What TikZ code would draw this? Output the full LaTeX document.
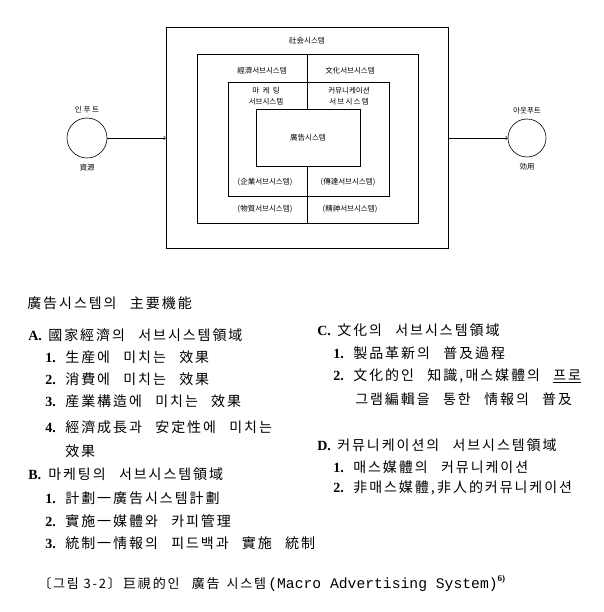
\documentclass[tikz,border=0pt]{standalone}
\usepackage{fontspec}
\setmainfont{Liberation Serif}
\setmonofont{Liberation Mono}
\newfontfamily\kr[LetterSpace=14]{Noto Sans CJK KR}
\newfontfamily\krc[LetterSpace=14]{Noto Sans CJK KR}
\newfontfamily\krs{Noto Sans CJK KR}
\usetikzlibrary{positioning}
\newcommand{\itm}[2]{\makebox[20pt][l]{\rmfamily\bfseries #1}#2}
\newcommand{\gap}{\hspace{0.95em}}

\begin{document}
\begin{tikzpicture}[x=1pt, y=-1pt, line width=0.6pt,
  lbl/.style={font=\krs\fontsize{7.5}{9}\selectfont, inner sep=0pt},
  txt/.style={anchor=west, font=\kr\fontsize{14}{16}\selectfont, inner sep=0pt}]
  \useasboundingbox (0,0) rectangle (603,612);

  % society system and its subsystems
  \node[draw, minimum width=282pt, minimum height=221pt, inner sep=0pt] (soc) at (307,137.5) {};
  \node[lbl] at (307,41) {社会시스템};
  \draw (197,54) rectangle (418,223);
  \draw (307,54) -- (307,223);
  \draw (228,82) rectangle (389,196);
  \node[draw, fill=white, minimum width=104pt, minimum height=57pt, lbl] (ad) at (308,137.5) {廣告시스템};
  \node[lbl] at (262,71) {經濟서브시스템};
  \node[lbl] at (350,71) {文化서브시스템};
  \node[lbl, align=center] at (266,96) {마\ \ 케\ \ 팅\\[2pt]서브시스템};
  \node[lbl, align=center] at (349,96) {커뮤니케이션\\[2pt]서\,브\,시\,스\,템};
  \node[lbl] at (265,182) {(企業서브시스템)};
  \node[lbl] at (348,182) {(傳達서브시스템)};
  \node[lbl] at (265,209) {(物質서브시스템)};
  \node[lbl] at (350,209) {(精神서브시스템)};

  % input and output
  \node[draw, circle, semithick, minimum size=40pt] (in) at (87,138) {};
  \node[lbl, above=4pt of in] {인\ 푸\ 트};
  \node[lbl, below=6pt of in] {資源};
  \node[draw, circle, semithick, minimum size=38pt] (out) at (527,138) {};
  \node[lbl, above=4pt of out] {아웃푸트};
  \node[lbl, below=6pt of out] {効用};
  \draw[->] (in) -- (in -| soc.west);
  \draw[->] (soc.east |- out) -- (out);

  % main functions
  \node[txt] (title) at (27,303) {廣告시스템의\gap 主要機能};
  \node[txt] (a) at (28,335) {\itm{A.}{國家經濟의\gap 서브시스템領域}};
  \node[txt] (a1) at (45,357) {\itm{1.}{生産에\gap 미치는\gap 效果}};
  \node[txt] (a2) at (45,379) {\itm{2.}{消費에\gap 미치는\gap 效果}};
  \node[txt] (a3) at (45,401) {\itm{3.}{産業構造에\gap 미치는\gap 效果}};
  \node[txt] (a4) at (45,427) {\itm{4.}{經濟成長과\gap 安定性에\gap 미치는}};
  \node[txt] (a4b) at (65,451) {效果};
  \node[txt] (b) at (28,474) {\itm{B.}{마케팅의\gap 서브시스템領域}};
  \node[txt] (b1) at (45,498) {\itm{1.}{計劃一廣告시스템計劃}};
  \node[txt] (b2) at (45,521) {\itm{2.}{實施一媒體와\gap 카피管理}};
  \node[txt] (b3) at (45,543) {\itm{3.}{統制一情報의\gap 피드백과\gap 實施\gap 統制}};

  \node[txt] (c) at (317,330) {\itm{C.}{文化의\gap 서브시스템領域}};
  \node[txt] (c1) at (333,353) {\itm{1.}{製品革新의\gap 普及過程}};
  \node[txt] (c2) at (333,376) {\itm{2.}{文化的인\gap 知識,\,매스媒體의\gap \underline{프로}}};
  \node[txt] (c2b) at (355,399) {그램編輯을\gap 통한\gap 情報의\gap 普及};
  \node[txt] (d) at (317,445) {\itm{D.}{커뮤니케이션의\gap 서브시스템領域}};
  \node[txt] (d1) at (333,467) {\itm{1.}{매스媒體의\gap 커뮤니케이션}};
  \node[txt] (d2) at (333,488) {\itm{2.}{非매스媒體,\,非人的커뮤니케이션}};

  % caption
  \node[anchor=west, inner sep=0pt] (cap) at (38,583) {{\krc\fontsize{13}{15}\selectfont 〔그림 3-2〕\,巨視的인\gap 廣告\, 시스템\,}{\ttfamily\fontsize{14.7}{15}\selectfont (Macro Advertising System)}\raisebox{7pt}{\fontsize{9}{9}\selectfont\bfseries 6)}};
\end{tikzpicture}
\end{document}
